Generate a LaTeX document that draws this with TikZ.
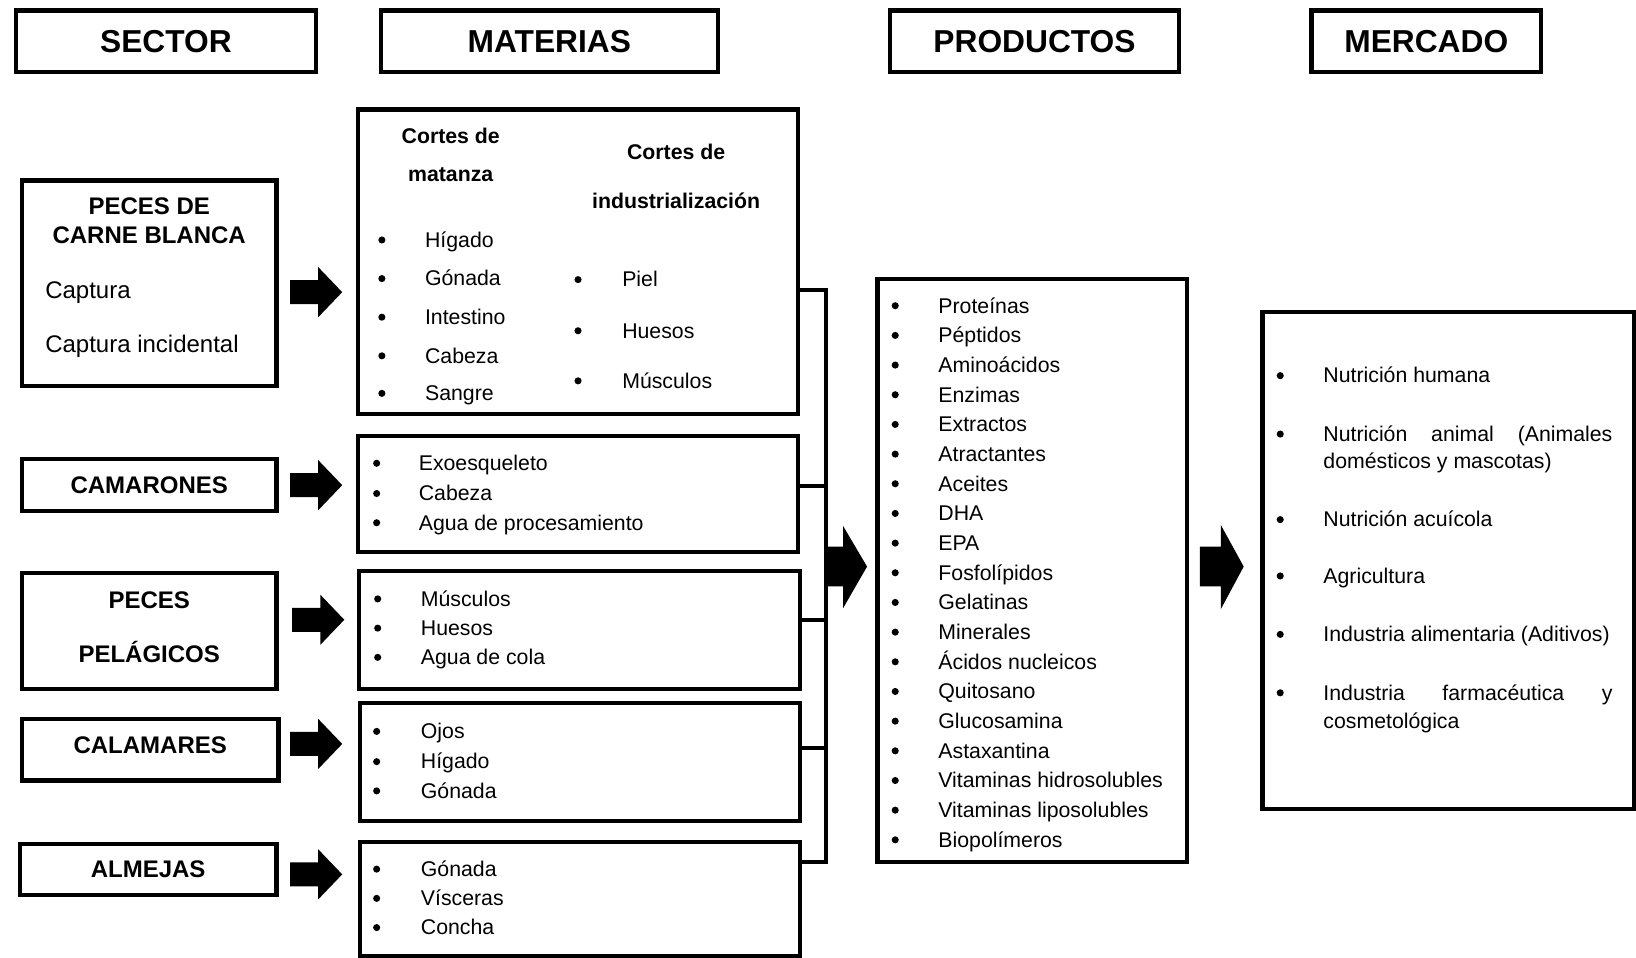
\documentclass[tikz,border=0pt]{standalone}
\usepackage{fontspec}
\setmainfont{Liberation Sans}
\newcommand\blkarrow[2]{%
  \fill (#1,#2-11.5) -- (#1+27,#2-11.5) -- (#1+27,#2-24) -- (#1+50,#2) -- (#1+27,#2+24) -- (#1+27,#2+11.5) -- (#1,#2+11.5) -- cycle;}
\begin{document}
\begin{tikzpicture}[x=0.5pt,y=-0.5pt,
  box/.style={draw, line width=2pt, inner sep=0pt},
  hdr/.style={box, font=\fontsize{15.2}{18}\selectfont\bfseries},
  lab/.style={anchor=base, font=\fontsize{11.5}{14}\selectfont\bfseries, inner sep=0pt},
  big/.style={anchor=base west, font=\fontsize{11.5}{14}\selectfont, inner sep=0pt},
  txt/.style={anchor=base west, font=\fontsize{10.2}{12}\selectfont, inner sep=0pt},
  sub/.style={anchor=base, font=\fontsize{10.2}{12}\selectfont\bfseries, inner sep=0pt},
  bul/.style={circle, fill, inner sep=0pt, minimum size=3.4pt},
  link/.style={line width=2pt}
]
\useasboundingbox (0,0) rectangle (1568,918);

% headers
\node[hdr, minimum width=144pt, minimum height=29.5pt] (hS) at (159,39.5) {SECTOR};
\node[hdr, minimum width=161.5pt, minimum height=29.5pt] (hM) at (526.5,39.5) {MATERIAS};
\node[hdr, minimum width=138.5pt, minimum height=29.5pt] (hP) at (991.5,39.5) {PRODUCTOS};
\node[hdr, minimum width=110pt, minimum height=29.5pt] (hK) at (1367,39.5) {MERCADO};

% sector boxes
\node[box, minimum width=122pt, minimum height=98.5pt] (s1) at (143,271.5) {};
\node[lab] (s1a) at (143,206) {PECES DE};
\node[lab] (s1b) at (143,233) {CARNE BLANCA};
\node[big] (s1c) at (43,286) {Captura};
\node[big] (s1d) at (43,338) {Captura incidental};

\node[box, minimum width=122pt, minimum height=25pt] (s2) at (143,465) {};
\node[lab] (s2a) at (143,473) {CAMARONES};

\node[box, minimum width=122pt, minimum height=55.5pt] (s3) at (143,604.5) {};
\node[lab] (s3a) at (143,583) {PECES};
\node[lab] (s3b) at (143,635) {PELÁGICOS};

\node[box, minimum width=123pt, minimum height=29.5pt] (s4) at (144,718.5) {};
\node[lab] (s4a) at (144,722) {CALAMARES};

\node[box, minimum width=123pt, minimum height=24.5pt] (s5) at (142,833.5) {};
\node[lab] (s5a) at (142,841) {ALMEJAS};

% small block arrows
\blkarrow{278}{280}
\blkarrow{278}{465}
\blkarrow{280}{594}
\blkarrow{278}{713}
\blkarrow{278}{838}

% materias boxes
\node[box, minimum width=211pt, minimum height=146pt] (m1) at (554,251) {};
\node[sub] (m1h1) at (432,138) {Cortes de};
\node[sub] (m1h2) at (432,174) {matanza};
\node[sub] (m1h3) at (648,153) {Cortes de};
\node[sub] (m1h4) at (648,200) {industrialización};
\foreach \t/\y [count=\i] in {Hígado/229, Gónada/266, Intestino/303, Cabeza/340, Sangre/376}{
  \node[bul] (m1lb\i) at (366,\y+1) {};
  \node[txt] (m1l\i) at (407,\y+8) {\t};
}
\foreach \t/\y [count=\i] in {Piel/267, Huesos/316, Músculos/364}{
  \node[bul] (m1rb\i) at (554,\y+1) {};
  \node[txt] (m1r\i) at (596,\y+8) {\t};
}

\node[box, minimum width=211pt, minimum height=55.5pt] (m2) at (554,473.5) {};
\foreach \t/\y [count=\i] in {Exoesqueleto/443, Cabeza/472, Agua de procesamiento/500}{
  \node[bul] (m2b\i) at (361,\y+1) {};
  \node[txt] (m2t\i) at (401,\y+8) {\t};
}

\node[box, minimum width=211.5pt, minimum height=56.5pt] (m3) at (555.5,603.5) {};
\foreach \t/\y [count=\i] in {Músculos/573, Huesos/601, Agua de cola/629}{
  \node[bul] (m3b\i) at (362,\y+1) {};
  \node[txt] (m3t\i) at (403,\y+8) {\t};
}

\node[box, minimum width=211pt, minimum height=56.5pt] (m4) at (556,730.5) {};
\foreach \t/\y [count=\i] in {Ojos/700, Hígado/729, Gónada/757}{
  \node[bul] (m4b\i) at (361,\y+1) {};
  \node[txt] (m4t\i) at (403,\y+8) {\t};
}

\node[box, minimum width=211pt, minimum height=54.5pt] (m5) at (556,861.5) {};
\foreach \t/\y [count=\i] in {Gónada/832, Vísceras/860, Concha/888}{
  \node[bul] (m5b\i) at (361,\y+1) {};
  \node[txt] (m5t\i) at (403,\y+8) {\t};
}

% bracket
\coordinate (j1) at (792,278);
\coordinate (j2) at (792,466);
\coordinate (j3) at (792,594);
\coordinate (j4) at (792,717);
\coordinate (j5) at (792,826);
\draw[link] (m1.east |- j1) -- (j1);
\draw[link] (m2.east |- j2) -- (j2);
\draw[link] (m3.east |- j3) -- (j3);
\draw[link] (m4.east |- j4) -- (j4);
\draw[link] (m5.east |- j5) -- (j5);
\draw[link, line cap=rect] (j1) -- (j5);

% big arrows
\fill (793,524) -- (808,524) -- (808,504) -- (831,543) -- (808,583) -- (808,562) -- (793,562) -- cycle;
\fill (1150,524) -- (1170,524) -- (1170,503) -- (1192,543) -- (1170,584) -- (1170,562) -- (1150,562) -- cycle;

% productos
\node[box, minimum width=148.5pt, minimum height=279.5pt] (p) at (989.5,546.5) {};
\foreach \t [count=\i] in {Proteínas, Péptidos, Aminoácidos, Enzimas, Extractos, Atractantes, Aceites, DHA, EPA, Fosfolípidos, Gelatinas, Minerales, Ácidos nucleicos, Quitosano, Glucosamina, Astaxantina, Vitaminas hidrosolubles, Vitaminas liposolubles, Biopolímeros}{
  \node[bul] (pb\i) at (858,{292+28.44*(\i-1)+1}) {};
  \node[txt] (pt\i) at (899,{292+28.44*(\i-1)+8}) {\t};
}

% mercado
\node[box, minimum width=178pt, minimum height=238pt] (k) at (1388,537) {};
\node[bul] (kb1) at (1227,360) {};
\node[txt] (kt1) at (1268,367) {Nutrición humana};
\node[bul] (kb2) at (1227,416) {};
\node[txt] (kt2) at (1268,423) {\hbox to 138.5pt{Nutrición\hfill animal\hfill (Animales}};
\node[txt] (kt2b) at (1268,449) {domésticos y mascotas)};
\node[bul] (kb3) at (1227,498) {};
\node[txt] (kt3) at (1268,505) {Nutrición acuícola};
\node[bul] (kb4) at (1227,552) {};
\node[txt] (kt4) at (1268,559) {Agricultura};
\node[bul] (kb5) at (1227,608) {};
\node[txt] (kt5) at (1268,615) {Industria alimentaria (Aditivos)};
\node[bul] (kb6) at (1227,664) {};
\node[txt] (kt6) at (1268,671) {\hbox to 138.5pt{Industria\hfill farmacéutica\hfill y}};
\node[txt] (kt6b) at (1268,698) {cosmetológica};
\end{tikzpicture}
\end{document}
